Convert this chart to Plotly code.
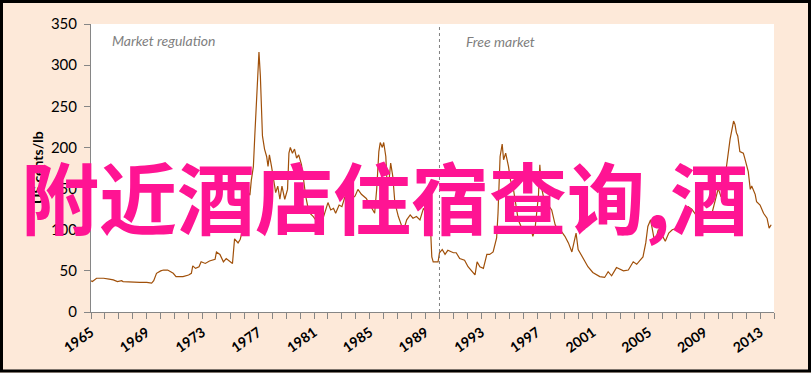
import plotly.graph_objects as go

# ---- data ----
years = [
    1965.0, 1965.1, 1965.4, 1965.9, 1966.3, 1966.6, 1966.9, 1967.2, 1967.3, 1968.0,
    1968.5, 1969.0, 1969.35, 1969.5, 1969.7, 1970.0, 1970.2, 1970.5, 1970.9, 1971.1,
    1971.6, 1972.0, 1972.2, 1972.3, 1972.5, 1972.75, 1972.9, 1973.2, 1973.5, 1973.9,
    1974.0, 1974.25, 1974.5, 1974.7, 1975.15, 1975.3, 1975.55, 1975.7, 1975.85, 1976.0,
    1976.15, 1976.3, 1976.4, 1976.5, 1976.65, 1976.75, 1976.9, 1977.05, 1977.15, 1977.3,
    1977.45, 1977.6, 1977.7, 1977.8, 1977.95, 1978.1, 1978.25, 1978.4, 1978.55, 1978.7,
    1978.9, 1979.1, 1979.2, 1979.3, 1979.45, 1979.6, 1979.75, 1979.9, 1980.1, 1980.25,
    1980.4, 1980.6, 1980.7, 1980.95, 1981.2, 1981.35, 1981.55, 1981.8, 1982.0, 1982.2,
    1982.4, 1982.55, 1982.8, 1983.0, 1983.2, 1983.5, 1983.8, 1983.95, 1984.15, 1984.4,
    1984.75, 1985.1, 1985.35, 1985.5, 1985.65, 1985.75, 1985.9, 1986.0, 1986.15, 1986.25,
    1986.4, 1986.5, 1986.65, 1986.8, 1987.05, 1987.3, 1987.4, 1987.65, 1987.9, 1988.1,
    1988.35, 1988.6, 1988.85, 1989.0, 1989.2, 1989.35, 1989.45, 1989.55, 1989.9, 1990.0,
    1990.2, 1990.4, 1990.6, 1991.0, 1991.2, 1991.45, 1991.8, 1992.05, 1992.4, 1992.55,
    1992.7, 1992.9, 1993.15, 1993.4, 1993.6, 1993.85, 1994.1, 1994.2, 1994.35, 1994.5,
    1994.6, 1994.75, 1994.95, 1995.1, 1995.3, 1995.5, 1995.65, 1995.9, 1996.25, 1996.6,
    1996.7, 1996.85, 1997.1, 1997.2, 1997.3, 1997.55, 1997.8, 1998.05, 1998.3, 1998.5,
    1998.75, 1999.0, 1999.25, 1999.5, 1999.7, 1999.8, 1999.95, 2000.3, 2000.65, 2001.0,
    2001.5, 2001.85, 2002.1, 2002.35, 2002.7, 2003.2, 2003.55, 2003.9, 2004.15, 2004.4,
    2004.6, 2004.8, 2004.95, 2005.15, 2005.3, 2005.45, 2005.7, 2005.95, 2006.2, 2006.45,
    2006.7, 2007.05, 2007.3, 2007.6, 2007.85, 2008.1, 2008.4, 2008.7, 2009.0, 2009.2,
    2009.55, 2009.8, 2010.0, 2010.2, 2010.4, 2010.5, 2010.6, 2010.85, 2011.1, 2011.2,
    2011.3, 2011.4, 2011.55, 2011.8, 2011.9, 2012.15, 2012.3, 2012.4, 2012.65, 2012.75,
    2013.0, 2013.25, 2013.5, 2013.65, 2013.8,
]
price = [
    38, 37, 41, 41, 40, 39, 37, 38, 37, 36,
    36, 36, 35, 38, 47, 50, 51, 51, 47, 43,
    43, 45, 47, 56, 53, 55, 61, 59, 62, 64,
    73, 70, 61, 65, 59, 89, 84, 88, 98, 115,
    135, 145, 142, 160, 177, 214, 258, 316, 287, 214,
    198, 189, 177, 191, 177, 161, 145, 153, 137, 153,
    137, 149, 193, 200, 193, 198, 187, 191, 179, 161,
    141, 124, 120, 116, 110, 98, 110, 122, 133, 124,
    126, 120, 130, 128, 139, 137, 139, 141, 149, 143,
    138, 128, 120, 150, 195, 206, 200, 206, 189, 153,
    163, 181, 165, 133, 116, 104, 98, 112, 118, 114,
    116, 112, 126, 122, 120, 105, 67, 61, 61, 72,
    76, 70, 75, 72, 72, 65, 63, 55, 47, 45,
    61, 55, 53, 70, 70, 73, 90, 120, 189, 204,
    185, 193, 177, 160, 150, 125, 112, 102, 102, 98,
    92, 100, 141, 179, 153, 133, 130, 124, 106, 100,
    98, 92, 84, 73, 86, 96, 76, 65, 55, 48,
    43, 42, 49, 44, 54, 50, 51, 61, 58, 63,
    67, 84, 104, 112, 98, 84, 100, 94, 86, 96,
    100, 102, 110, 114, 128, 125, 118, 122, 115, 118,
    120, 135, 150, 140, 150, 165, 177, 210, 232, 228,
    218, 214, 195, 193, 187, 171, 149, 153, 143, 134,
    130, 120, 114, 102, 106,
]
regime_change_year = 1990
x_range = [1965, 2014]
y_range = [0, 350]
y_ticks = [0, 50, 100, 150, 200, 250, 300, 350]
x_major_ticks = list(range(1965, 2014, 4))
y_title = "US cents/lb"
label_left = "Market regulation"
label_right = "Free market"
watermark = "附近酒店住宿查询,酒"

W, H = 811, 373
ML, MR, MT, MB = 91, 37, 24, 61
pw, ph = W - ML - MR, H - MT - MB

def px_to_paper_x(px):
    return (px - ML) / pw

def px_to_paper_y(py):
    return (H - MB - py) / ph

fig = go.Figure()
fig.add_trace(go.Scatter(
    x=years, y=price, mode="lines",
    line=dict(color="#A0500A", width=1.2),
    hoverinfo="skip", showlegend=False,
))

fig.add_shape(type="line", xref="x", yref="y",
              x0=regime_change_year, x1=regime_change_year,
              y0=y_range[0], y1=y_range[1],
              line=dict(color="#808080", width=1, dash="dot"))

# outer black frame
fig.add_shape(type="rect", xref="paper", yref="paper",
              x0=px_to_paper_x(1.5), x1=px_to_paper_x(W - 1.5),
              y0=px_to_paper_y(H - 2), y1=px_to_paper_y(1.5),
              line=dict(color="black", width=3), fillcolor="rgba(0,0,0,0)",
              layer="above")

fig.add_annotation(x=1966.35, y=330, xref="x", yref="y", text=label_left,
                   showarrow=False, xanchor="left", yanchor="middle",
                   font=dict(family="Lato", size=14, color="#7F7F7F", style="italic"))
fig.add_annotation(x=1991.75, y=329, xref="x", yref="y", text=label_right,
                   showarrow=False, xanchor="left", yanchor="middle",
                   font=dict(family="Lato", size=14, color="#7F7F7F", style="italic"))

fig.add_annotation(x=px_to_paper_x(37), y=0.5, xref="paper", yref="paper",
                   text=y_title, textangle=-90, showarrow=False,
                   xanchor="center", yanchor="middle",
                   font=dict(family="Lato", size=14, color="black", weight="bold"))

fig.add_annotation(x=px_to_paper_x(384), y=px_to_paper_y(195), xref="paper", yref="paper",
                   text=watermark, showarrow=False, xanchor="center", yanchor="middle",
                   font=dict(family="Noto Sans CJK SC", size=78, color="#FF1493", weight="bold"))

fig.update_layout(
    width=W, height=H,
    margin=dict(l=ML, r=MR, t=MT, b=MB, pad=0),
    paper_bgcolor="#FDE9D9",
    plot_bgcolor="white",
    font=dict(family="Lato", size=14, color="black"),
    showlegend=False,
)
fig.update_xaxes(
    range=x_range, tickmode="array", tickvals=x_major_ticks,
    ticktext=[str(v) for v in x_major_ticks],
    tickangle=-35, ticks="outside", ticklen=6, tickcolor="#868686", tickwidth=1,
    showline=True, linecolor="#868686", linewidth=1, showgrid=False, zeroline=False,
    tickfont=dict(family="Lato", size=14, color="black", weight="bold"),
    minor=dict(dtick=1, tick0=1965, ticks="outside", ticklen=6, tickcolor="#868686", showgrid=False),
)
fig.update_yaxes(
    range=y_range, tickmode="array", tickvals=y_ticks,
    ticks="outside", ticklen=6, tickcolor="#868686", tickwidth=1,
    showline=True, linecolor="#868686", linewidth=1, showgrid=False, zeroline=False,
    ticklabelstandoff=4,
    tickfont=dict(family="Lato", size=15, color="black"),
)

fig.write_html("out.html")
